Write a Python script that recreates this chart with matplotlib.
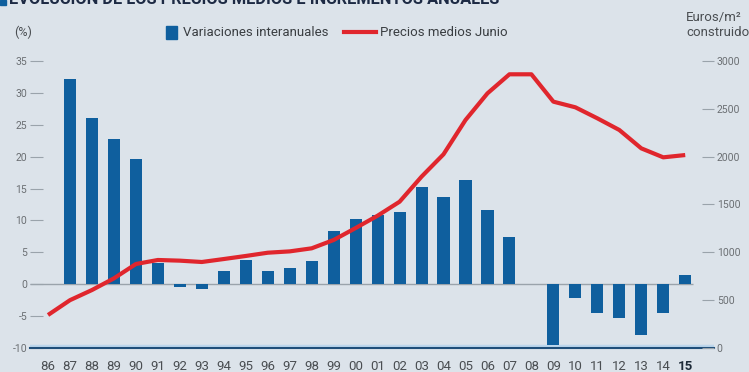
import matplotlib.pyplot as plt
from matplotlib.patches import Rectangle
from matplotlib.lines import Line2D

# Datos
years = list(range(1986, 2016))
year_labels = ['86', '87', '88', '89', '90', '91', '92', '93', '94', '95', '96', '97', '98', '99',
               '00', '01', '02', '03', '04', '05', '06', '07', '08', '09', '10', '11', '12', '13',
               '14', '15']
variaciones = [0, 32.2, 26.0, 22.8, 19.7, 3.4, -0.5, -0.8, 2.0, 3.8, 2.1, 2.5, 3.7, 8.3,
               10.2, 10.9, 11.3, 15.3, 13.7, 16.4, 11.7, 7.4, 0, -9.6, -2.1, -4.5, -5.3, -7.9,
               -4.5, 1.4]
precios = [345, 500, 606, 728, 878, 920, 913, 899, 930, 962, 996, 1010, 1042, 1129,
           1254, 1383, 1529, 1791, 2025, 2383, 2662, 2861, 2861, 2575, 2516, 2401, 2279, 2087,
           1993, 2017]
left_ticks = [-10, -5, 0, 5, 10, 15, 20, 25, 30, 35]
right_ticks = [0, 500, 1000, 1500, 2000, 2500, 3000]

bg = '#dce3ea'
blue = '#0f5f9e'
red = '#e0262d'
grey_txt = '#6b6f73'

plt.rcParams['font.family'] = ['Roboto', 'DejaVu Sans']

fig = plt.figure(figsize=(7.49, 3.72), dpi=100)
fig.patch.set_facecolor(bg)

ax = fig.add_axes([30 / 749, 24 / 372, 684 / 749, 287 / 372])
ax.set_facecolor(bg)
ax2 = ax.twinx()

# barras solo donde hay valor
bx = [y for y, v in zip(years, variaciones) if v != 0]
bv = [v for v in variaciones if v != 0]
ax.bar(bx, bv, width=0.55, color=blue, zorder=3)

x0, x1 = 1985.18, 2016.31
ax.set_xlim(x0, x1)
ax.set_ylim(-10, 35)
ax.hlines(0, x0, 2015.36, color='#9aa3ab', lw=1, zorder=2)
ax.axhline(-9.7, color='#bcd6ec', lw=2.5, zorder=1)

ax2.plot(years, precios, color=red, lw=3, zorder=4, solid_capstyle='butt')
ax2.set_ylim(0, 3000)
ax2.set_xlim(x0, x1)

for a in (ax, ax2):
    for s in ['top', 'left', 'right', 'bottom']:
        a.spines[s].set_visible(False)
ax.spines['bottom'].set_visible(True)
ax.spines['bottom'].set_color('#1f4e79')
ax.spines['bottom'].set_linewidth(1.5)

ax.set_yticks(left_ticks)
ax.set_yticklabels([str(t) for t in left_ticks])
ax.tick_params(axis='y', direction='in', length=9, width=0.8, color='#9aa3ab',
               labelsize=7.5, labelcolor=grey_txt, pad=2)
ax2.set_yticks(right_ticks)
ax2.set_yticklabels([str(t) for t in right_ticks])
ax2.tick_params(axis='y', direction='in', length=9, width=0.8, color='#9aa3ab',
                labelsize=7.5, labelcolor=grey_txt, pad=2)

ax.set_xticks(years)
ax.set_xticklabels(year_labels)
ax.tick_params(axis='x', length=0, labelsize=9.5, labelcolor='#4a4e52', pad=9)
last = ax.get_xticklabels()[-1]
last.set_fontweight('bold')
last.set_color('#1d2a38')

# textos de cabecera (el titulo aparece cortado arriba en el original)
fig.text(9 / 749, 1.0, 'EVOLUCIÓN DE LOS PRECIOS MEDIOS E INCREMENTOS ANUALES',
         fontsize=11.8, fontweight='bold', color='#1d2a44', va='center', ha='left')
fig.patches.append(Rectangle((0, 1 - 5 / 372), 6 / 749, 5 / 372, transform=fig.transFigure,
                             color=blue, figure=fig))
fig.text(14 / 749, 1 - 32 / 372, '(%)', fontsize=9, color='#4a4e52', va='center')
fig.text(686 / 749, 1 - 17 / 372, 'Euros/m²', fontsize=9.5, color='#4a4e52', va='center')
fig.text(686 / 749, 1 - 33 / 372, 'construido', fontsize=9.5, color='#4a4e52', va='center')

# leyenda manual
fig.patches.append(Rectangle((166 / 749, 1 - 39 / 372), 11 / 749, 13 / 372,
                             transform=fig.transFigure, color=blue, figure=fig))
fig.text(183 / 749, 1 - 32 / 372, 'Variaciones interanuales', fontsize=9.5,
         color='#3a3e42', va='center')
fig.lines.append(Line2D([344 / 749, 376 / 749], [1 - 32 / 372, 1 - 32 / 372],
                        transform=fig.transFigure, color=red, lw=3, figure=fig))
fig.text(380 / 749, 1 - 32 / 372, 'Precios medios Junio', fontsize=9.5,
         color='#3a3e42', va='center')

fig.savefig('out.png', dpi=100, facecolor=bg)
